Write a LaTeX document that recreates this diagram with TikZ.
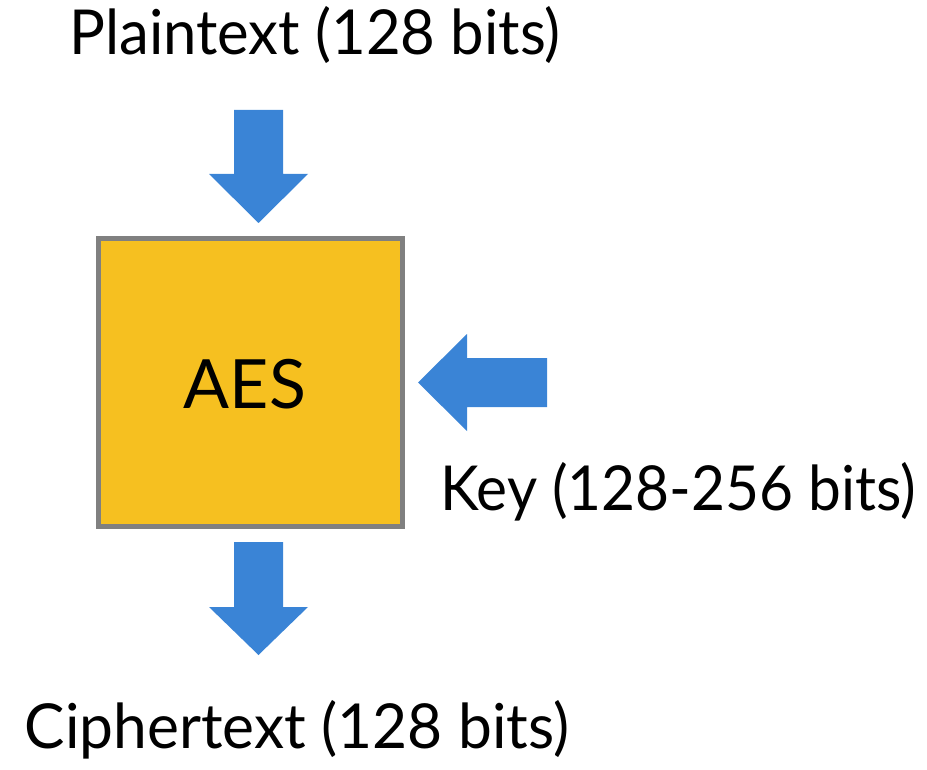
\documentclass[tikz,border=0pt]{standalone}
\usepackage{fontspec}
\setmainfont{Lato}
\definecolor{arrowblue}{RGB}{58,132,214}
\definecolor{aesyellow}{RGB}{246,192,32}
\definecolor{aesgray}{RGB}{128,128,128}
\begin{document}
\begin{tikzpicture}[x=1pt,y=-1pt,
  label/.style={inner sep=0pt,font=\fontsize{62}{62}\selectfont},
  blockarrow/.style={fill=arrowblue,draw=none}]
\useasboundingbox (0,0) rectangle (927,770);
\node[draw=aesgray,line width=5pt,fill=aesyellow,minimum width=304pt,minimum height=288pt,inner sep=0pt] (aes) at (250.5,382.5) {};
\node[label,anchor=base,font=\fontsize{68}{68}\selectfont] (aeslbl) at (245,408) {AES};
\node[label,anchor=base] (plain) at (315,55) {\scalebox{0.965}[1]{Plaintext (128 bits)}};
\node[label,anchor=base west] (key) at (440,510) {\scalebox{0.945}[1]{Key (128-256 bits)}};
\node[label,anchor=base] (cipher) at (297,748) {\scalebox{0.975}[1]{Ciphertext (128 bits)}};
% top arrow
\fill[blockarrow] (234,110) -- (283,110) -- (283,174) -- (308,174) -- (258.5,223) -- (209,174) -- (234,174) -- cycle;
% right arrow
\fill[blockarrow] (547,358) -- (547,407) -- (467,407) -- (467,431) -- (418,382.5) -- (467,334) -- (467,358) -- cycle;
% bottom arrow
\fill[blockarrow] (234,542) -- (283,542) -- (283,607) -- (308,607) -- (258.5,655) -- (209,607) -- (234,607) -- cycle;
\end{tikzpicture}
\end{document}
